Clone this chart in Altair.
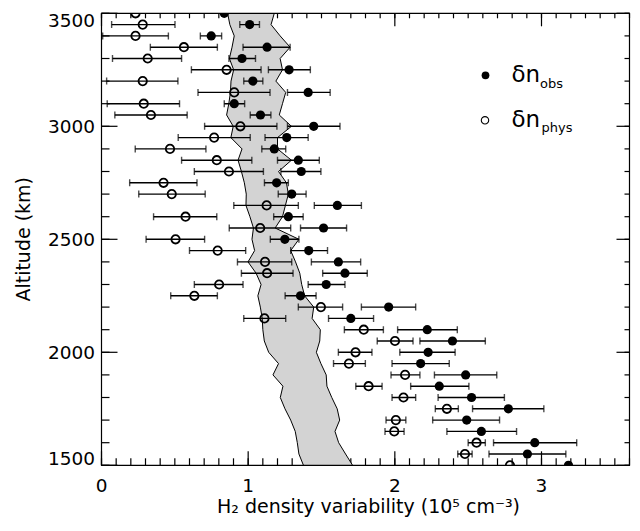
import altair as alt
import pandas as pd

# ---------------- data ----------------
altitude = [3500, 3450, 3400, 3350, 3300, 3250, 3200, 3150, 3100, 3050,
            3000, 2950, 2900, 2850, 2800, 2750, 2700, 2650, 2600, 2550,
            2500, 2450, 2400, 2350, 2300, 2250, 2200, 2150, 2100, 2050,
            2000, 1950, 1900, 1850, 1800, 1750, 1700, 1650, 1600, 1550, 1500]

obs = [0.837, 1.010, 0.748, 1.129, 0.958, 1.279, 1.032, 1.409, 0.905, 1.084,
       1.447, 1.263, 1.178, 1.342, 1.362, 1.194, 1.297, 1.608, 1.274, 1.514,
       1.250, 1.413, 1.615, 1.660, 1.532, 1.357, 1.958, 1.700, 2.221, 2.393,
       2.227, 2.176, 2.483, 2.303, 2.523, 2.774, 2.490, 2.590, 2.954, 2.904, 3.184]
obs_lo = [None, 0.943, 0.674, 0.965, 0.869, 1.138, 0.970, 1.268, 0.837, 1.014,
          1.268, 1.115, 1.093, 1.200, 1.223, 1.111, 1.205, 1.451, 1.174, 1.357,
          1.151, 1.290, 1.431, 1.508, 1.409, 1.252, 1.772, 1.548, 2.019, 2.171,
          2.034, 1.981, 2.270, 2.108, 2.295, 2.530, 2.258, 2.355, 2.673, 2.642, None]
obs_hi = [None, 1.077, 0.819, 1.286, 1.050, 1.424, 1.100, 1.559, 0.976, 1.155,
          1.626, 1.409, 1.256, 1.485, 1.496, 1.274, 1.395, 1.772, 1.375, 1.671,
          1.346, 1.541, 1.767, 1.812, 1.660, 1.463, 2.142, 1.855, 2.426, 2.617,
          2.411, 2.371, 2.695, 2.505, 2.747, 3.016, 2.714, 2.830, 3.240, 3.166, None]

phys = [0.232, 0.281, 0.232, 0.562, 0.315, 0.853, 0.281, 0.905, 0.288, 0.337,
        0.947, 0.768, 0.467, 0.786, 0.869, 0.423, 0.479, 1.126, 0.573, 1.082,
        0.505, 0.792, 1.115, 1.129, 0.802, 0.633, 1.496, 1.111, 1.788, 2.001,
        1.732, 1.687, 2.070, 1.821, 2.059, 2.355, 2.007, 1.996, 2.557, 2.478, 2.785]
phys_lo = [None, 0.069, 0.008, 0.333, 0.075, 0.613, 0.035, 0.658, 0.039, 0.091,
           0.703, 0.523, 0.230, 0.546, 0.633, 0.192, 0.254, 0.902, 0.355, 0.871,
           0.304, 0.600, 0.927, 0.954, 0.633, 0.472, 1.342, 0.970, 1.656, 1.880,
           1.615, 1.582, 1.974, 1.734, 1.981, 2.276, 1.940, 1.933, 2.500, 2.429, None]
phys_hi = [None, 0.501, 0.456, 0.790, 0.546, 1.088, 0.521, 1.149, 0.532, 0.584,
           1.196, 1.014, 0.712, 1.025, 1.104, 0.651, 0.707, 1.342, 0.786, 1.290,
           0.703, 0.983, 1.297, 1.306, 0.965, 0.790, 1.644, 1.256, 1.922, 2.124,
           1.844, 1.799, 2.171, 1.913, 2.142, 2.433, 2.075, 2.063, 2.617, 2.527, None]

band_lo = [0.860, 0.875, 0.905, 0.890, 0.872, 0.901, 0.883, 0.879, 0.868, 0.853,
           0.898, 0.882, 0.958, 0.931, 0.954, 0.974, 0.987, 0.985, 1.012, 1.036,
           1.026, 1.044, 0.999, 1.054, 1.088, 1.066, 1.083, 1.096, 1.100, 1.110,
           1.140, 1.207, 1.169, 1.237, 1.219, 1.251, 1.290, 1.321, 1.335, 1.346, 1.377]
band_hi = [1.178, 1.156, 1.218, 1.286, 1.218, 1.234, 1.189, 1.256, 1.234, 1.212,
           1.295, 1.200, 1.200, 1.295, 1.207, 1.261, 1.274, 1.254, 1.234, 1.184,
           1.346, 1.290, 1.323, 1.352, 1.365, 1.385, 1.447, 1.436, 1.492, 1.488,
           1.465, 1.496, 1.532, 1.537, 1.570, 1.607, 1.624, 1.592, 1.617, 1.664, 1.712]

x_major = [0, 1, 2, 3]
x_major_text = ["0", "1", "2", "3"]
x_minor = [0.0, 0.1, 0.2, 0.3, 0.4, 0.5, 0.6, 0.7, 0.8, 0.9, 1.0, 1.1, 1.2, 1.3,
           1.4, 1.5, 1.6, 1.7, 1.8, 1.9, 2.0, 2.1, 2.2, 2.3, 2.4, 2.5, 2.6, 2.7,
           2.8, 2.9, 3.0, 3.1, 3.2, 3.3, 3.4, 3.5, 3.6]
y_major = [1500, 2000, 2500, 3000, 3500]
y_major_text = ["1500", "2000", "2500", "3000", "3500"]
y_minor = [1500, 1600, 1700, 1800, 1900, 2000, 2100, 2200, 2300, 2400, 2500,
           2600, 2700, 2800, 2900, 3000, 3100, 3200, 3300, 3400, 3500]
x_title = "H₂ density variability (10⁵ cm⁻³)"
y_title = "Altitude (km)"
leg_main = "δn"
leg_names = ["obs", "phys"]

# ---------------- layout (kept inside the 640x531 window) ----------------
W, H = 528, 452
FONT = "DejaVu Sans"
TICK_FS = 18.5
TITLE_FS = 19

xs = alt.Scale(domain=[0, 3.6], nice=False, zero=False)
ys = alt.Scale(domain=[1500, 3500], nice=False, zero=False)


def X(field):
    return alt.X(field, scale=xs, axis=None)


def Y(field):
    return alt.Y(field, scale=ys, axis=None)


band = pd.DataFrame({"alt": altitude, "lo": band_lo, "hi": band_hi})
pts = pd.concat([
    pd.DataFrame({"alt": altitude, "val": obs, "lo": obs_lo, "hi": obs_hi, "s": "obs"}),
    pd.DataFrame({"alt": altitude, "val": phys, "lo": phys_lo, "hi": phys_hi, "s": "phys"}),
], ignore_index=True)
errs = pts.dropna(subset=["lo", "hi"])
one = pd.DataFrame({"k": [0]})


# inward axis ticks, positioned through the scales
def yticks(values, xc, length):
    return alt.Chart(pd.DataFrame({"v": values})).mark_tick(
        orient="horizontal", color="black", size=length, thickness=1.2, opacity=1).encode(
        y=Y("v:Q"), x=alt.value(xc))


def xticks(values, yc, length):
    return alt.Chart(pd.DataFrame({"v": values})).mark_tick(
        orient="vertical", color="black", size=length, thickness=1.2, opacity=1).encode(
        x=X("v:Q"), y=alt.value(yc))


tick_layers = [
    yticks(y_major, 8, 16), yticks(y_minor, 4, 8),
    yticks(y_major, W - 6.5, 13), yticks(y_minor, W - 2.5, 5),
    xticks(x_major, H - 7, 14), xticks(x_minor, H - 3.5, 7),
    xticks(x_major, 6.5, 13), xticks(x_minor, 2.5, 5),
]

# tick labels and axis titles as text marks
ylab_df = pd.DataFrame({"v": y_major, "t": y_major_text})
ylab_mid = alt.Chart(ylab_df).transform_filter("datum.v > 1500 && datum.v < 3500").mark_text(
    align="right", baseline="alphabetic", dy=7, font=FONT, fontSize=TICK_FS, color="black").encode(
    y=Y("v:Q"), x=alt.value(-6.5), text="t:N")
ylab_top = alt.Chart(ylab_df).transform_filter("datum.v == 3500").mark_text(
    align="right", baseline="alphabetic", dy=14, font=FONT, fontSize=TICK_FS, color="black").encode(
    y=Y("v:Q"), x=alt.value(-6.5), text="t:N")
ylab_bot = alt.Chart(ylab_df).transform_filter("datum.v == 1500").mark_text(
    align="right", baseline="alphabetic", dy=0, font=FONT, fontSize=TICK_FS, color="black").encode(
    y=Y("v:Q"), x=alt.value(-6.5), text="t:N")
xlab = alt.Chart(pd.DataFrame({"v": x_major, "t": x_major_text})).mark_text(
    align="center", baseline="alphabetic", font=FONT, fontSize=TICK_FS, color="black").encode(
    x=X("v:Q"), y=alt.value(H + 27), text="t:N")
xtitle = alt.Chart(one).mark_text(
    align="center", baseline="alphabetic", font=FONT, fontSize=TITLE_FS, color="black").encode(
    x=alt.value(W / 2 + 3), y=alt.value(H + 48), text=alt.value(x_title))
ytitle = alt.Chart(one).mark_text(
    align="center", baseline="middle", angle=270, font=FONT, fontSize=TITLE_FS,
    color="black").encode(
    x=alt.value(-78), y=alt.value(H / 2), text=alt.value(y_title))

area = alt.Chart(band).mark_area(orient="horizontal", color="#d3d3d3", clip=True).encode(
    y=Y("alt:Q"), x=X("lo:Q"), x2="hi:Q",
)
edge_lo = alt.Chart(band).mark_line(color="black", strokeWidth=1, clip=True).encode(
    y=Y("alt:Q"), x=X("lo:Q"), order="alt:Q",
)
edge_hi = alt.Chart(band).mark_line(color="black", strokeWidth=1, clip=True).encode(
    y=Y("alt:Q"), x=X("hi:Q"), order="alt:Q",
)

frame = alt.Chart(one).mark_rect(
    filled=False, stroke="black", strokeWidth=1.2, opacity=1).encode(
    x=alt.value(0), x2=alt.value(W), y=alt.value(0), y2=alt.value(H))

bars = alt.Chart(errs).mark_rule(color="black", strokeWidth=1.4, clip=True).encode(
    y=Y("alt:Q"), x=X("lo:Q"), x2="hi:Q",
)
caps = alt.Chart(errs).transform_fold(["lo", "hi"], as_=["end", "xv"]).mark_tick(
    orient="vertical", color="black", size=7, thickness=1.4, clip=True
).encode(
    y=Y("alt:Q"), x=X("xv:Q"),
)

filled = alt.Chart(pts).transform_filter("datum.s === 'obs'").mark_point(
    filled=True, color="black", size=85, opacity=1, clip=True
).encode(
    y=Y("alt:Q"), x=X("val:Q"),
)
hollow = alt.Chart(pts).transform_filter("datum.s === 'phys'").mark_point(
    filled=False, color="black", size=70, strokeWidth=1.8, opacity=1, clip=True
).encode(
    y=Y("alt:Q"), x=X("val:Q"),
)

# ---------------- legend ----------------
leg_sym1 = alt.Chart(one).mark_point(filled=True, color="black", size=60, opacity=1).encode(
    x=alt.value(384), y=alt.value(62))
leg_sym2 = alt.Chart(one).mark_point(filled=False, color="black", size=55, strokeWidth=1.1,
                                     opacity=1).encode(x=alt.value(383.5), y=alt.value(107))
leg_main1 = alt.Chart(one).mark_text(align="left", baseline="alphabetic", font=FONT,
                                     fontSize=23, color="black").encode(
    x=alt.value(410), y=alt.value(69.2), text=alt.value(leg_main))
leg_main2 = alt.Chart(one).mark_text(align="left", baseline="alphabetic", font=FONT,
                                     fontSize=23, color="black").encode(
    x=alt.value(410), y=alt.value(114), text=alt.value(leg_main))
leg_sub1 = alt.Chart(one).mark_text(align="left", baseline="alphabetic", font=FONT,
                                    fontSize=13, color="black").encode(
    x=alt.value(438.5), y=alt.value(75.2), text=alt.value(leg_names[0]))
leg_sub2 = alt.Chart(one).mark_text(align="left", baseline="alphabetic", font=FONT,
                                    fontSize=13, color="black").encode(
    x=alt.value(440), y=alt.value(119), text=alt.value(leg_names[1]))

chart = alt.layer(
    *tick_layers, area, edge_lo, edge_hi, frame,
    bars, caps, hollow, filled,
    ylab_mid, ylab_top, ylab_bot, xlab, xtitle, ytitle,
    leg_sym1, leg_sym2, leg_main1, leg_main2, leg_sub1, leg_sub2,
).properties(
    width=W, height=H,
    autosize=alt.AutoSizeParams(type="none"),
    padding={"left": 93.5, "top": 5.3, "right": 2, "bottom": 52},
    background="white",
).configure_view(stroke=None)

chart.save("out.html", embed_options={"renderer": "svg", "actions": False})
